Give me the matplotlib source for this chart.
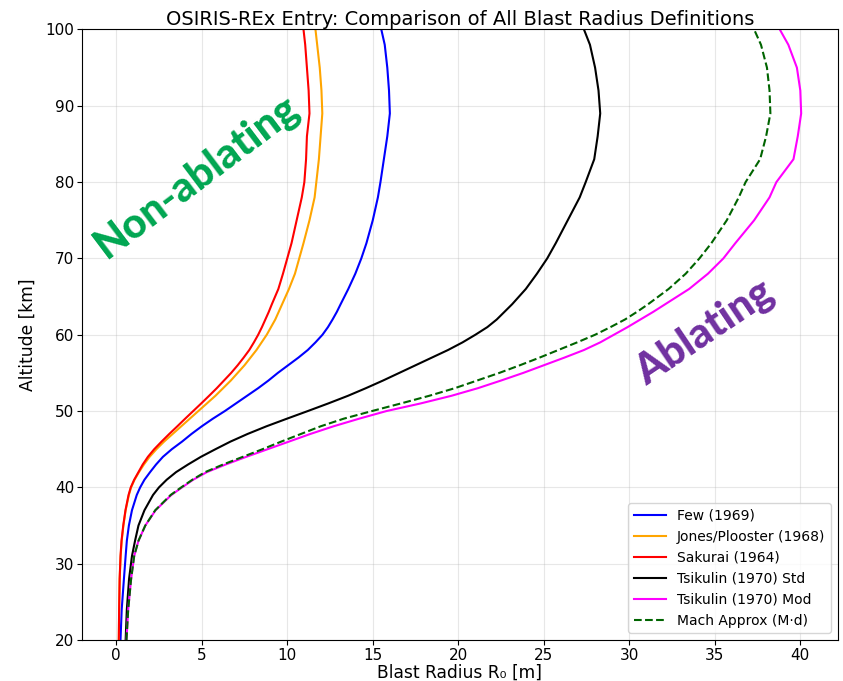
import matplotlib
matplotlib.use("Agg")
import matplotlib.pyplot as plt

# altitude grid [km] the curves were read at
altitude = [20, 24, 28, 31, 33, 35, 37, 39, 40, 41, 42, 43, 44, 45, 46, 47, 48, 49, 50,
            51, 52, 53, 54, 55, 56, 57, 58, 59, 60, 61, 62, 63, 64, 66, 68, 70, 72,
            75, 78, 80, 83, 86, 89, 92, 95, 98, 100]

# blast radius R0 [m] for each definition
few = [0.25, 0.32, 0.45, 0.55, 0.62, 0.74, 0.92, 1.20, 1.40, 1.65, 1.98, 2.33, 2.73,
       3.25, 3.85, 4.40, 5.00, 5.65, 6.35, 7.00, 7.65, 8.30, 8.90, 9.45, 10.05, 10.65,
       11.20, 11.65, 12.06, 12.38, 12.65, 12.90, 13.12, 13.57, 13.98, 14.33, 14.63,
       15.00, 15.30, 15.45, 15.65, 15.85, 16.00, 15.95, 15.85, 15.70, 15.50]
jones = [0.15, 0.17, 0.20, 0.26, 0.32, 0.42, 0.55, 0.74, 0.87, 1.07, 1.33, 1.62, 1.95,
         2.35, 2.80, 3.30, 3.80, 4.30, 4.80, 5.30, 5.80, 6.25, 6.70, 7.10, 7.50, 7.85,
         8.20, 8.50, 8.80, 9.05, 9.30, 9.50, 9.70, 10.10, 10.45, 10.70, 10.95,
         11.30, 11.60, 11.70, 11.85, 11.95, 12.05, 12.00, 11.90, 11.75, 11.65]
sakurai = [0.15, 0.17, 0.20, 0.25, 0.31, 0.41, 0.54, 0.72, 0.85, 1.05, 1.30, 1.55, 1.85,
           2.22, 2.65, 3.10, 3.57, 4.03, 4.50, 4.97, 5.43, 5.88, 6.30, 6.72, 7.10, 7.45,
           7.78, 8.05, 8.30, 8.52, 8.72, 8.92, 9.10, 9.48, 9.75, 10.00, 10.25,
           10.55, 10.85, 11.00, 11.10, 11.15, 11.30, 11.25, 11.15, 11.05, 10.95]
tsik_std = [0.55, 0.62, 0.75, 0.92, 1.10, 1.30, 1.65, 2.15, 2.50, 2.95, 3.50, 4.20, 4.95,
            5.80, 6.68, 7.68, 8.78, 9.98, 11.20, 12.40, 13.55, 14.60, 15.60, 16.55, 17.50,
            18.45, 19.40, 20.25, 21.00, 21.70, 22.25, 22.70, 23.15, 23.95, 24.60, 25.20,
            25.70, 26.40, 27.10, 27.45, 27.95, 28.15, 28.30, 28.20, 28.00, 27.70, 27.35]
tsik_mod = [0.60, 0.70, 0.87, 1.05, 1.30, 1.70, 2.30, 3.22, 3.85, 4.50, 5.30, 6.40, 7.60,
            8.85, 10.10, 11.35, 12.70, 14.20, 15.80, 17.80, 19.60, 21.15, 22.50, 23.80,
            25.00, 26.20, 27.35, 28.30, 29.10, 29.90, 30.65, 31.40, 32.10, 33.50, 34.60,
            35.50, 36.20, 37.30, 38.20, 38.60, 39.60, 39.85, 40.05, 40.00, 39.80, 39.30,
            38.80]
mach = [0.60, 0.70, 0.87, 1.05, 1.30, 1.70, 2.28, 3.18, 3.80, 4.45, 5.20, 6.25, 7.40,
        8.55, 9.65, 10.80, 11.95, 13.30, 14.95, 16.65, 18.30, 19.80, 21.10, 22.40,
        23.60, 24.75, 25.85, 26.95, 28.00, 28.90, 29.75, 30.45, 31.10, 32.30, 33.30,
        34.10, 34.80, 35.70, 36.40, 36.80, 37.65, 38.00, 38.25, 38.20, 38.05, 37.70,
        37.30]

fig = plt.figure(figsize=(8.43, 6.81), dpi=100)
ax = fig.add_axes([0.0973, 0.0602, 0.8967, 0.8965])

ax.plot(few, altitude, color='blue', lw=1.5, label='Few (1969)')
ax.plot(jones, altitude, color='orange', lw=1.5, label='Jones/Plooster (1968)')
ax.plot(sakurai, altitude, color='red', lw=1.5, label='Sakurai (1964)')
ax.plot(tsik_std, altitude, color='black', lw=1.5, label='Tsikulin (1970) Std')
ax.plot(tsik_mod, altitude, color='magenta', lw=1.5, label='Tsikulin (1970) Mod')
ax.plot(mach, altitude, color='darkgreen', lw=1.5, ls='--', label='Mach Approx (M\u00b7d)')

ax.set_ylim(20, 100)
ax.set_xlim(-2, 42.2)
ax.set_xlabel('Blast Radius R\u2080 [m]', fontsize=12.3, labelpad=1)
ax.set_ylabel('Altitude [km]', fontsize=12.3, labelpad=6)
ax.set_title('OSIRIS-REx Entry: Comparison of All Blast Radius Definitions', fontsize=14, pad=3)
ax.tick_params(labelsize=11, pad=2)
ax.grid(True, alpha=0.3)
ax.legend(loc='lower right', fontsize=10, handlelength=2.3)

# region labels
ax.text(4.7, 80.8, 'Non-ablating', color='#00A651', fontsize=30, fontweight='black',
        family='Lato', rotation=37, ha='center', va='center')
ax.text(34.4, 60.4, 'Ablating', color='#7030A0', fontsize=30, fontweight='black',
        family='Lato', rotation=34, ha='center', va='center')

fig.savefig('out.png', dpi=100)
